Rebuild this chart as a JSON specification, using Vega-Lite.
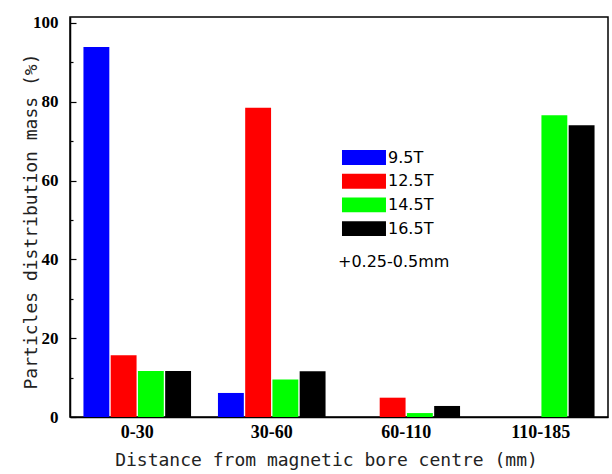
{
  "$schema": "https://vega.github.io/schema/vega-lite/v6.json",
  "width": 538,
  "height": 400,
  "autosize": {"type": "none"},
  "padding": {"left": 70, "top": 17, "right": 4, "bottom": 57},
  "background": "white",
  "config": {
    "view": {"stroke": "black", "strokeWidth": 1.5},
    "axis": {"grid": false, "domainColor": "black", "domainWidth": 1.5, "tickColor": "black"}
  },
  "data": {
    "values": [
      {"range": "0-30", "field": "9.5T", "mass": 93.9},
      {"range": "0-30", "field": "12.5T", "mass": 15.7},
      {"range": "0-30", "field": "14.5T", "mass": 11.7},
      {"range": "0-30", "field": "16.5T", "mass": 11.7},
      {"range": "30-60", "field": "9.5T", "mass": 6.1},
      {"range": "30-60", "field": "12.5T", "mass": 78.5},
      {"range": "30-60", "field": "14.5T", "mass": 9.5},
      {"range": "30-60", "field": "16.5T", "mass": 11.6},
      {"range": "60-110", "field": "9.5T", "mass": 0},
      {"range": "60-110", "field": "12.5T", "mass": 4.9},
      {"range": "60-110", "field": "14.5T", "mass": 1.0},
      {"range": "60-110", "field": "16.5T", "mass": 2.8},
      {"range": "110-185", "field": "9.5T", "mass": 0},
      {"range": "110-185", "field": "12.5T", "mass": 0},
      {"range": "110-185", "field": "14.5T", "mass": 76.6},
      {"range": "110-185", "field": "16.5T", "mass": 74.0}
    ]
  },
  "mark": {"type": "bar", "strokeWidth": 0},
  "encoding": {
    "x": {
      "field": "range",
      "type": "nominal",
      "sort": ["0-30", "30-60", "60-110", "110-185"],
      "scale": {"paddingInner": 0.2, "paddingOuter": 0.1},
      "axis": {
        "title": "Distance  from magnetic  bore centre (mm)",
        "titleFont": "DejaVu Sans Mono",
        "titleFontSize": 18,
        "titleFontWeight": "normal",
        "titleColor": "#222",
        "titleX": 256,
        "titleY": 43,
        "titleBaseline": "middle",
        "labelAngle": 0,
        "labelFont": "Liberation Serif",
        "labelFontWeight": "bold",
        "labelFontSize": 18,
        "labelColor": "black",
        "labelPadding": 6,
        "ticks": false
      }
    },
    "xOffset": {
      "field": "field",
      "type": "nominal",
      "sort": ["9.5T", "12.5T", "14.5T", "16.5T"],
      "scale": {"paddingInner": 0.05}
    },
    "y": {
      "field": "mass",
      "type": "quantitative",
      "scale": {"domain": [0, 101.5], "nice": false},
      "axis": {
        "title": "Particles distribution mass (%)",
        "titleFont": "DejaVu Sans Mono",
        "titleFontSize": 18,
        "titleFontWeight": "normal",
        "titleColor": "#222",
        "titleX": -39,
        "titleY": 204,
        "titleAlign": "center",
        "titleBaseline": "middle",
        "values": [0, 10, 20, 30, 40, 50, 60, 70, 80, 90, 100],
        "labelExpr": "datum.value % 20 === 0 ? datum.label : ''",
        "labelFont": "Liberation Serif",
        "labelFontWeight": "bold",
        "labelFontSize": 17,
        "labelColor": "black",
        "labelPadding": 18,
        "tickSize": {"condition": {"test": "datum.value % 20 === 0", "value": -6}, "value": -3},
        "tickWidth": 1.2
      }
    },
    "color": {
      "field": "field",
      "type": "nominal",
      "sort": ["9.5T", "12.5T", "14.5T", "16.5T"],
      "scale": {"domain": ["9.5T", "12.5T", "14.5T", "16.5T"], "range": ["#0000ff", "#ff0000", "#00ff00", "#000000"]},
      "legend": {
        "title": "+0.25-0.5mm",
        "titleOrient": "bottom",
        "titleFont": "DejaVu Sans",
        "titleFontSize": 16,
        "titleFontWeight": "normal",
        "titleColor": "black",
        "titlePadding": 17,
        "titleAnchor": "start",
        "orient": "none",
        "legendX": 268,
        "legendY": 130,
        "padding": 0,
        "symbolType": "M-0.62,-0.71H3.57V0.71H-0.62Z",
        "symbolSize": 441,
        "symbolStrokeWidth": 0,
        "symbolOpacity": 1,
        "labelFont": "DejaVu Sans",
        "labelFontSize": 16,
        "labelColor": "black",
        "labelOffset": 29,
        "rowPadding": 4.7
      }
    }
  }
}
